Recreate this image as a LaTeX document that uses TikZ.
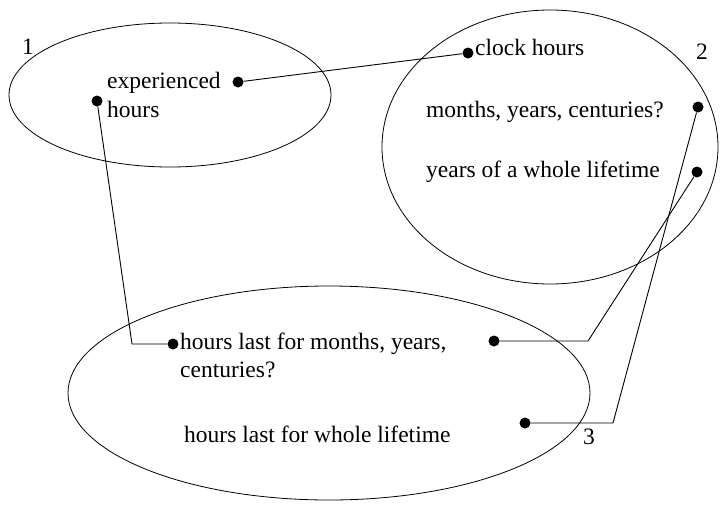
\documentclass[tikz,border=0pt]{standalone}
\usepackage{fontspec}
\setmainfont{Liberation Serif}
\usetikzlibrary{shapes.geometric}
\begin{document}
\begin{tikzpicture}[x=1pt,y=-1pt,
  every node/.style={font=\fontsize{23.5}{29}\selectfont},
  txt/.style={anchor=base west,inner sep=0pt},
  blob/.style={draw,ellipse,inner sep=0pt,line width=0.8pt},
  dot/.style={circle,fill=black,inner sep=0pt,minimum size=11pt},
  link/.style={line width=0.9pt}]
\useasboundingbox (0,0) rectangle (721,504);

% the three regions
\node[blob,minimum width=322pt,minimum height=144pt] (e1) at (170,95) {};
\node[blob,minimum width=336pt,minimum height=274pt] (e2) at (550,147) {};
\node[blob,minimum width=522pt,minimum height=214pt] (e3) at (329,393) {};

% region numbers
\node (n1) at (28,47) {1};
\node (n2) at (702,52) {2};
\node (n3) at (589,437) {3};

% texts
\node[txt] (t1a) at (107,88) {experienced};
\node[txt] (t1b) at (107,117) {hours};
\node[txt] (t2a) at (475,55) {clock hours};
\node[txt] (t2b) at (426,117) {months, years, centuries?};
\node[txt] (t2c) at (426,177) {years of a whole lifetime};
\node[txt] (t3a) at (180,349) {hours last for months, years,};
\node[txt] (t3b) at (180,377) {centuries?};
\node[txt] (t3c) at (184,442) {hours last for whole lifetime};

% anchor dots
\node[dot] (dExp) at (238,82) {};
\node[dot] (dHrs) at (97,101) {};
\node[dot] (dClk) at (468,53) {};
\node[dot] (dMon) at (698,107) {};
\node[dot] (dLife) at (697,172) {};
\node[dot] (dLastM) at (173,344) {};
\node[dot] (dLastMr) at (494,341) {};
\node[dot] (dLastL) at (525,423) {};

% elbow points
\coordinate (kHrs) at (132,344);
\coordinate (kLife) at (588,341);
\coordinate (kMon) at (613,423);

% connectors
\draw[link] (dExp) -- (dClk);
\draw[link] (dHrs) -- (kHrs) -- (dLastM);
\draw[link] (dLife) -- (kLife) -- (dLastMr);
\draw[link] (dMon) -- (kMon) -- (dLastL);
\end{tikzpicture}
\end{document}
